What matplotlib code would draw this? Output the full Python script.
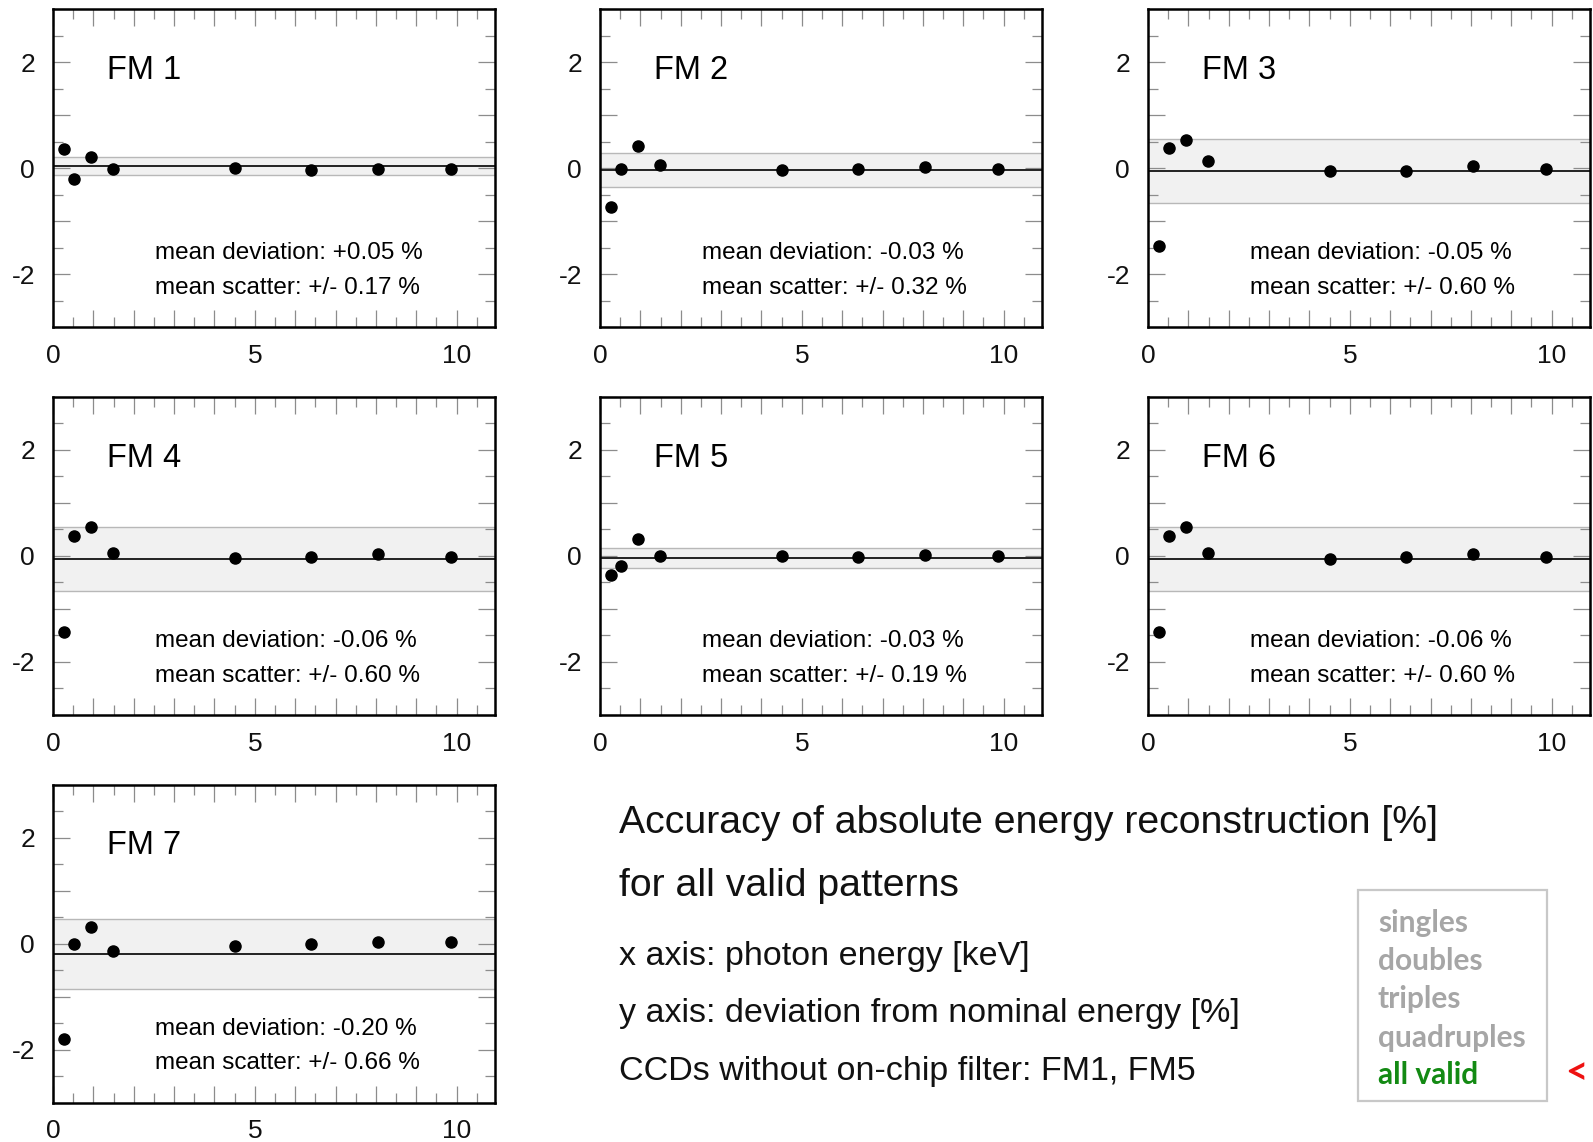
import matplotlib
matplotlib.use("Agg")
import matplotlib.pyplot as plt
from matplotlib.ticker import MultipleLocator, FuncFormatter
from matplotlib.patches import Rectangle

plt.rcParams['font.family'] = ['Liberation Sans', 'DejaVu Sans']

# photon energies of the calibration lines [keV]
energies = [0.277, 0.525, 0.93, 1.49, 4.51, 6.40, 8.04, 9.85]

# deviation from nominal energy [%] per CCD
fm_names = ["FM 1", "FM 2", "FM 3", "FM 4", "FM 5", "FM 6", "FM 7"]
fm1 = [0.36, -0.20, 0.22, -0.01, 0.01, -0.03, -0.01, -0.01]
fm2 = [-0.73, -0.01, 0.43, 0.06, -0.03, -0.02, 0.02, -0.01]
fm3 = [-1.46, 0.38, 0.54, 0.13, -0.06, -0.05, 0.05, -0.02]
fm4 = [-1.44, 0.38, 0.55, 0.06, -0.03, -0.02, 0.03, -0.02]
fm5 = [-0.36, -0.18, 0.33, 0.00, 0.00, -0.02, 0.01, 0.00]
fm6 = [-1.44, 0.38, 0.55, 0.06, -0.06, -0.02, 0.04, -0.02]
fm7 = [-1.80, 0.00, 0.32, -0.14, -0.04, -0.01, 0.03, 0.04]
deviations = [fm1, fm2, fm3, fm4, fm5, fm6, fm7]

mean_dev = [0.05, -0.03, -0.05, -0.06, -0.03, -0.06, -0.20]
mean_scatter = [0.17, 0.32, 0.60, 0.60, 0.19, 0.60, 0.66]

x_labels = [0, 5, 10]
y_labels = [-2, 0, 2]

pattern_types = ["singles", "doubles", "triples", "quadruples", "all valid"]
selected = "all valid"

W, H = 1593, 1142
fig = plt.figure(figsize=(W / 100, H / 100), dpi=100)

col_left = [53, 600, 1148]
row_top = [9.3, 397, 784.7]
ax_w, ax_h = 442, 318


def only(vals):
    return FuncFormatter(lambda v, p: f"{v:g}" if any(abs(v - t) < 1e-6 for t in vals) else "")


for i, (name, dev) in enumerate(zip(fm_names, deviations)):
    r, c = divmod(i, 3)
    x0, y0 = col_left[c], row_top[r]
    ax = fig.add_axes([x0 / W, 1 - (y0 + ax_h) / H, ax_w / W, ax_h / H])
    ax.set_xlim(0, 10.95)
    ax.set_ylim(-3, 3)

    m, s = mean_dev[i], mean_scatter[i]
    ax.axhspan(m - s, m + s, facecolor="#f1f1f1", edgecolor="#b8b8b8", lw=1.0, zorder=1)
    ax.axhline(m, color="#222222", lw=1.4, zorder=2)
    ax.plot(energies, dev, "o", color="black", ms=8, zorder=3)

    ax.text(1.34, 1.685, name, fontsize=23.5, ha="left", va="baseline")
    ax.text(2.53, -1.72, f"mean deviation: {m:+.2f} %", fontsize=17.5, ha="left", va="baseline")
    ax.text(2.53, -2.37, f"mean scatter: +/- {s:.2f} %", fontsize=17.5, ha="left", va="baseline")

    ax.xaxis.set_major_locator(MultipleLocator(1))
    ax.xaxis.set_minor_locator(MultipleLocator(0.5))
    ax.yaxis.set_major_locator(MultipleLocator(1))
    ax.yaxis.set_minor_locator(MultipleLocator(0.5))
    ax.xaxis.set_major_formatter(only(x_labels))
    ax.yaxis.set_major_formatter(only(y_labels))
    ax.tick_params(which="both", direction="in", top=True, right=True, color="#8c8c8c", width=0.9)
    ax.tick_params(which="major", length=12, labelsize=19, labelcolor="#111111")
    ax.tick_params(axis="x", which="major", pad=12)
    ax.tick_params(axis="y", which="major", pad=13)
    ax.tick_params(which="minor", length=7.5)
    for sp in ax.spines.values():
        sp.set_linewidth(1.8)
        sp.set_color("black")

# description block
lines = [
    ("Accuracy of absolute energy reconstruction [%]", 833, 28.3),
    ("for all valid patterns", 896, 28.3),
    ("x axis: photon energy [keV]", 965, 24.5),
    ("y axis: deviation from nominal energy [%]", 1022, 24.5),
    ("CCDs without on-chip filter: FM1, FM5", 1080, 24.5),
]
for txt, yb, fs in lines:
    fig.text(619 / W, 1 - yb / H, txt, fontsize=fs, ha="left", va="baseline", color="#111111")

# pattern selection box
box = Rectangle((1358 / W, 1 - 1101 / H), (1547 - 1358) / W, (1101 - 890) / H,
                transform=fig.transFigure, facecolor="none", edgecolor="#c8c8c8", lw=1.6)
fig.add_artist(box)
row_y = [923, 961, 999, 1038, 1075]
for label, yc in zip(pattern_types, row_y):
    col = "#138a13" if label == selected else "#a6a6a6"
    fig.text(1378 / W, 1 - yc / H, label, fontsize=21.5, fontweight="bold", family=["Lato", "DejaVu Sans"],
             color=col, ha="left", va="center")
fig.text(1576 / W, 1 - (row_y[-1] - 2) / H, "<", fontsize=28, fontweight="bold", family=["Lato", "DejaVu Sans"],
         color="#ee1111", ha="center", va="center")

fig.savefig("out.png", dpi=100)
